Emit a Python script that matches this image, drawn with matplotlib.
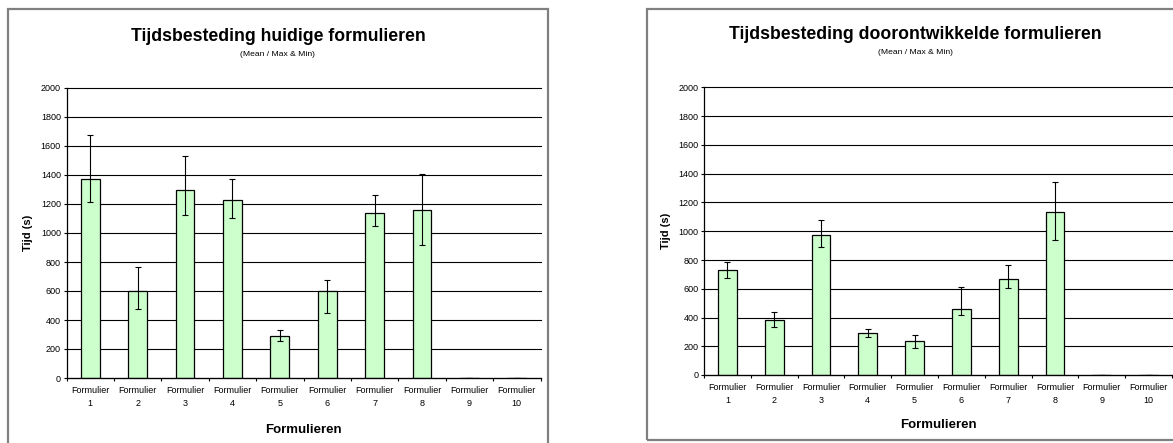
import matplotlib
matplotlib.use("Agg")
import matplotlib.pyplot as plt
from matplotlib.patches import Rectangle
import numpy as np

plt.rcParams['font.family'] = ['Liberation Sans', 'DejaVu Sans']

categories = ["Formulier\n1", "Formulier\n2", "Formulier\n3", "Formulier\n4", "Formulier\n5",
              "Formulier\n6", "Formulier\n7", "Formulier\n8", "Formulier\n9", "Formulier\n10"]

# Chart 1: huidige formulieren
huidig_mean = [1375, 597, 1299, 1230, 289, 597, 1136, 1160, 0, 0]
huidig_max = [1678, 764, 1531, 1370, 328, 673, 1265, 1405, 0, 0]
huidig_min = [1213, 475, 1123, 1102, 255, 448, 1049, 916, 0, 0]

# Chart 2: doorontwikkelde formulieren
door_mean = [733, 384, 972, 295, 240, 460, 670, 1135, 0, 0]
door_max = [784, 437, 1077, 321, 281, 612, 763, 1340, 0, 0]
door_min = [674, 337, 891, 267, 186, 419, 605, 937, 0, 0]

yticks = [0, 200, 400, 600, 800, 1000, 1200, 1400, 1600, 1800, 2000]

titles = ["Tijdsbesteding huidige formulieren", "Tijdsbesteding doorontwikkelde formulieren"]
subtitle = "(Mean / Max & Min)"
xlabel = "Formulieren"
ylabel = "Tijd (s)"

W, H = 1173, 443
fig = plt.figure(figsize=(W / 100, H / 100), dpi=100)
fig.patch.set_facecolor("white")


def fx(px):
    return px / W


def fy(py):
    return 1 - py / H


def draw(ax_rect, mean, vmax, vmin):
    ax = fig.add_axes(ax_rect)
    x = np.arange(len(categories))
    mean = np.array(mean, dtype=float)
    lo = mean - np.array(vmin, dtype=float)
    hi = np.array(vmax, dtype=float) - mean
    ax.set_axisbelow(True)
    ax.bar(x, mean, width=0.4, color="#CCFFCC", edgecolor="black", linewidth=0.9, zorder=2)
    ax.errorbar(x, mean, yerr=[lo, hi], fmt="none", ecolor="black", elinewidth=0.8,
                capsize=2.5, capthick=0.8, zorder=3)
    ax.set_xlim(-0.5, len(categories) - 0.5)
    ax.set_ylim(0, 2000)
    ax.set_yticks(yticks)
    ax.set_yticklabels([str(v) for v in yticks])
    ax.yaxis.grid(True, color="black", linewidth=0.8)
    for gl in ax.get_ygridlines():
        gl.set_clip_on(False)
    ax.set_xticks(x)
    ax.set_xticklabels(categories, linespacing=1.55)
    ax.set_xticks(np.arange(len(categories) + 1) - 0.5, minor=True)
    ax.tick_params(axis="x", which="major", length=0, pad=6, labelsize=6.5)
    ax.tick_params(axis="x", which="minor", length=2.5, width=0.8, direction="out")
    ax.tick_params(axis="y", length=2.5, width=0.8, pad=1.5, labelsize=6.5)
    for s in ["top", "right"]:
        ax.spines[s].set_visible(False)
    ax.spines["left"].set_linewidth(0.9)
    ax.spines["bottom"].set_linewidth(0.9)
    return ax


# left chart
draw([fx(66.5), fy(378), fx(540.5) - fx(66.5), fy(88) - fy(378)],
     huidig_mean, huidig_max, huidig_min)
# right chart
draw([fx(704), fy(375), fx(1172) - fx(704), fy(87.5) - fy(375)],
     door_mean, door_max, door_min)

# frames
fig.patches.append(Rectangle((fx(8), -0.05), fx(548) - fx(8), fy(9) + 0.05,
                             transform=fig.transFigure, fill=False,
                             edgecolor="#808080", linewidth=1.6))
fig.patches.append(Rectangle((fx(647), fy(440)), 1.05 - fx(647), fy(9) - fy(440),
                             transform=fig.transFigure, fill=False,
                             edgecolor="#808080", linewidth=1.6))

# titles
fig.text(fx(278), fy(36.5), titles[0], ha="center", va="center", fontsize=12.7, fontweight="bold")
fig.text(fx(278), fy(54), subtitle, ha="center", va="center", fontsize=6.1)
fig.text(fx(915), fy(34.5), titles[1], ha="center", va="center", fontsize=12.7, fontweight="bold")
fig.text(fx(915), fy(52), subtitle, ha="center", va="center", fontsize=6.1)

# axis labels
fig.text(fx(303.5), fy(430), xlabel, ha="center", va="center", fontsize=9.5, fontweight="bold")
fig.text(fx(938), fy(425), xlabel, ha="center", va="center", fontsize=9.5, fontweight="bold")
fig.text(fx(28), fy(233), ylabel, ha="center", va="center", rotation=90, fontsize=8, fontweight="bold")
fig.text(fx(666), fy(231), ylabel, ha="center", va="center", rotation=90, fontsize=8, fontweight="bold")

fig.savefig("out.png", dpi=100, facecolor="white")
